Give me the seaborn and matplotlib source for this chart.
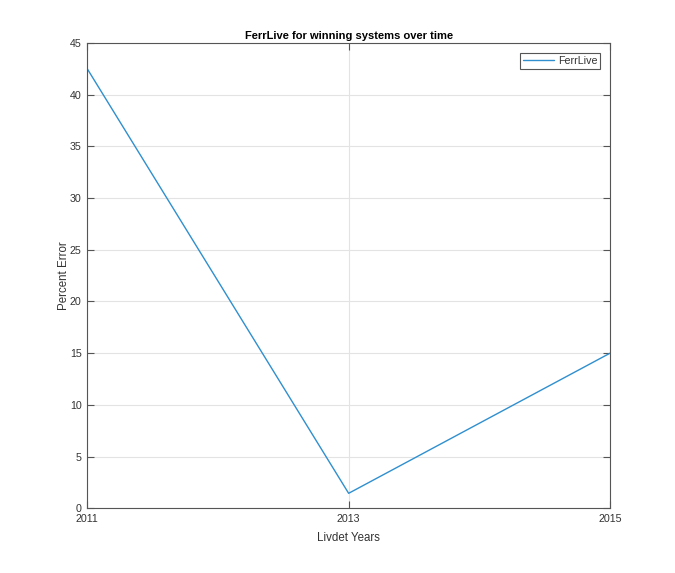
import seaborn as sns
import matplotlib.pyplot as plt
import pandas as pd

years = [2011, 2013, 2015]
ferr_live = [42.5, 1.45, 15.0]
y_ticks = [0, 5, 10, 15, 20, 25, 30, 35, 40, 45]


def create_chart():
    sns.set_style("white")
    plt.rcParams['font.family'] = ['Liberation Sans', 'DejaVu Sans']
    data = pd.DataFrame({"Year": years, "FerrLive": ferr_live})

    fig = plt.figure(figsize=(6.75, 5.73), dpi=100)
    ax = fig.add_axes([0.1293, 0.1129, 0.9037 - 0.1293, 0.925 - 0.1129])

    sns.lineplot(x="Year", y="FerrLive", data=data, color="#2f8fcf", lw=1.0,
                 label="FerrLive", ax=ax)

    axis_col = "#555555"
    ax.set_xlim(2011, 2015)
    ax.set_ylim(0, 45)
    ax.set_xticks(years)
    ax.set_xticklabels([str(y) for y in years])
    ax.set_yticks(y_ticks)
    ax.grid(True, color="#e3e3e3", lw=0.8)
    ax.set_axisbelow(True)
    for s in ax.spines.values():
        s.set_color(axis_col)
        s.set_linewidth(0.8)
    ax.tick_params(direction="in", length=5, width=0.8, color=axis_col,
                   labelsize=7.7, labelcolor="#333333", pad=4,
                   bottom=True, top=True, left=True, right=True)
    ax.set_xlabel("Livdet Years", fontsize=8.3, color="#333333", labelpad=6)
    ax.set_ylabel("Percent Error", fontsize=8.3, color="#333333", labelpad=0)
    ax.set_title("FerrLive for winning systems over time", fontsize=8,
                 fontweight="bold", color="black", pad=3)

    leg = ax.legend(loc="upper right", fontsize=7.7, fancybox=False,
                    edgecolor=axis_col, framealpha=1, handlelength=2.9,
                    borderpad=0.3, handletextpad=0.3, borderaxespad=0.9)
    leg.get_frame().set_linewidth(0.8)
    for t in leg.get_texts():
        t.set_color("#333333")

    fig.savefig("out.png", dpi=100, facecolor="white")


if __name__ == '__main__':
    create_chart()
